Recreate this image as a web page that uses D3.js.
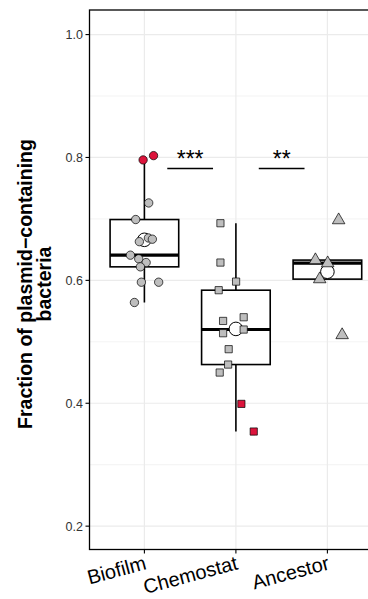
<!DOCTYPE html>
<html><head><meta charset="utf-8">
<script src="https://cdn.jsdelivr.net/npm/d3@7"></script>
<style>body{margin:0;background:#fff}svg{display:block}text{font-family:"Liberation Sans",Arial,sans-serif}</style>
</head><body><svg id="c" width="368" height="599"></svg>
<script>
const categories = ["Biofilm", "Chemostat", "Ancestor"];
const shapes = ["circle", "square", "triangle"];
// observed values per group
const biofilmValues   = [0.796, 0.803, 0.726, 0.699, 0.663, 0.669, 0.667, 0.641, 0.635, 0.629, 0.622, 0.597, 0.597, 0.564];
const biofilmJitter   = [-0.014, 0.100, 0.047, -0.095, -0.055, 0.044, 0.087, -0.153, -0.062, 0.019, -0.044, -0.033, 0.156, -0.109];
const biofilmRed      = [1, 1, 0, 0, 0, 0, 0, 0, 0, 0, 0, 0, 0, 0];
const chemostatValues = [0.693, 0.629, 0.598, 0.584, 0.540, 0.534, 0.520, 0.514, 0.488, 0.463, 0.450, 0.399, 0.354];
const chemostatJitter = [-0.169, -0.169, 0.002, -0.188, 0.085, -0.140, 0.085, -0.140, -0.079, -0.085, -0.177, 0.060, 0.195];
const chemostatRed    = [0, 0, 0, 0, 0, 0, 0, 0, 0, 0, 0, 1, 1];
const ancestorValues  = [0.698, 0.633, 0.628, 0.602, 0.511];
const ancestorJitter  = [0.123, -0.131, 0.003, -0.084, 0.161];
const ancestorRed     = [0, 0, 0, 0, 0];
// box statistics
const q1       = [0.622, 0.463, 0.602];
const medians  = [0.641, 0.520, 0.628];
const q3       = [0.699, 0.584, 0.633];
const whiskLo  = [0.564, 0.354, 0.602];
const whiskHi  = [0.800, 0.693, 0.633];
const means    = [0.666, 0.521, 0.614];
// significance annotations
const sigPairs  = [[0, 1], [1, 2]];
const sigLabels = ["***", "**"];
const sigLevel  = 0.782;
const yTicks = [0.2, 0.4, 0.6, 0.8, 1.0];
const yMinor = [0.3, 0.5, 0.7, 0.9];
const yTitle = ["Fraction of plasmid\u2212containing", "bacteria"];

const groups = [
  {vals: biofilmValues, jit: biofilmJitter, red: biofilmRed},
  {vals: chemostatValues, jit: chemostatJitter, red: chemostatRed},
  {vals: ancestorValues, jit: ancestorJitter, red: ancestorRed}
];

const svg = d3.select("#c");
const L = 89.5, R = 382.3, T = 10, B = 549.5;
const x = d3.scaleLinear().domain([0.4, 3.6]).range([L, R]);
const y = d3.scaleLinear().domain([0.162, 1.04]).range([B, T]);
const step = x(2) - x(1);
const boxW = 0.75 * step;

svg.append("defs").append("clipPath").attr("id", "pc")
  .append("rect").attr("x", L).attr("y", T).attr("width", R - L).attr("height", B - T);
const g = svg.append("g").attr("clip-path", "url(#pc)");

// grid
g.selectAll(".gmin").data(yMinor).join("line")
  .attr("x1", L).attr("x2", R).attr("y1", d => y(d)).attr("y2", d => y(d))
  .attr("stroke", "#EBEBEB").attr("stroke-width", 0.6);
g.selectAll(".gmaj").data(yTicks).join("line")
  .attr("x1", L).attr("x2", R).attr("y1", d => y(d)).attr("y2", d => y(d))
  .attr("stroke", "#EBEBEB").attr("stroke-width", 1.2);
g.selectAll(".gx").data(categories).join("line")
  .attr("x1", (d, i) => x(i + 1)).attr("x2", (d, i) => x(i + 1)).attr("y1", T).attr("y2", B)
  .attr("stroke", "#EBEBEB").attr("stroke-width", 1.2);

// boxes
categories.forEach((c, i) => {
  const cx = x(i + 1);
  g.append("line").attr("x1", cx).attr("x2", cx).attr("y1", y(q3[i])).attr("y2", y(whiskHi[i]))
    .attr("stroke", "#000").attr("stroke-width", 1.6);
  g.append("line").attr("x1", cx).attr("x2", cx).attr("y1", y(q1[i])).attr("y2", y(whiskLo[i]))
    .attr("stroke", "#000").attr("stroke-width", 1.6);
  g.append("rect").attr("x", cx - boxW / 2).attr("width", boxW)
    .attr("y", y(q3[i])).attr("height", y(q1[i]) - y(q3[i]))
    .attr("fill", "#fff").attr("stroke", "#000").attr("stroke-width", 1.6);
  g.append("line").attr("x1", cx - boxW / 2).attr("x2", cx + boxW / 2)
    .attr("y1", y(medians[i])).attr("y2", y(medians[i]))
    .attr("stroke", "#000").attr("stroke-width", 3.2);
  g.append("circle").attr("cx", cx).attr("cy", y(means[i])).attr("r", 6.8)
    .attr("fill", "#fff").attr("stroke", "#000").attr("stroke-width", 1);
});

// points
const sym = {
  circle: d3.symbol().type(d3.symbolCircle).size(55),
  square: d3.symbol().type(d3.symbolSquare).size(52),
  triangle: d3.symbol().type(d3.symbolTriangle).size(68)
};
groups.forEach((grp, i) => {
  g.selectAll(".p" + i).data(grp.vals).join("path")
    .attr("d", sym[shapes[i]])
    .attr("transform", (d, j) => `translate(${x(i + 1 + grp.jit[j])},${y(d)})`)
    .attr("fill", (d, j) => grp.red[j] ? "#DC143C" : "#BEBEBE")
    .attr("stroke", "#000").attr("stroke-width", 0.7);
});

// significance
sigPairs.forEach((p, k) => {
  const a = x(p[0] + 1), b = x(p[1] + 1), mid = (a + b) / 2, half = 0.25 * step;
  g.append("line").attr("x1", mid - half).attr("x2", mid + half)
    .attr("y1", y(sigLevel)).attr("y2", y(sigLevel)).attr("stroke", "#000").attr("stroke-width", 1.5);
  g.append("text").attr("x", mid).attr("y", y(sigLevel) - 2).attr("text-anchor", "middle")
    .attr("font-size", 23).attr("fill", "#000").text(sigLabels[k]);
});

// border
svg.append("rect").attr("x", L).attr("y", T).attr("width", R - L).attr("height", B - T)
  .attr("fill", "none").attr("stroke", "#000").attr("stroke-width", 1.3);

// y axis
const ya = svg.append("g");
yTicks.forEach(t => {
  ya.append("line").attr("x1", L - 4).attr("x2", L).attr("y1", y(t)).attr("y2", y(t))
    .attr("stroke", "#000").attr("stroke-width", 1.1);
  ya.append("text").attr("x", L - 6.5).attr("y", y(t)).attr("dy", "0.36em")
    .attr("text-anchor", "end").attr("font-size", 12.5).attr("fill", "#333").text(d3.format(".1f")(t));
});
// x axis
categories.forEach((c, i) => {
  const cx = x(i + 1);
  svg.append("line").attr("x1", cx).attr("x2", cx).attr("y1", B).attr("y2", B + 4)
    .attr("stroke", "#000").attr("stroke-width", 1.1);
  svg.append("text").attr("transform", `translate(${cx + 3},${569}) rotate(-15)`)
    .attr("text-anchor", "end").attr("font-size", 20).attr("fill", "#000").text(c);
});
// y title
yTitle.forEach((t, k) => {
  svg.append("text").attr("transform", `translate(${31.5 + k * 19},${284}) rotate(-90)`)
    .attr("text-anchor", "middle").attr("font-size", 19.5).attr("font-weight", "bold")
    .attr("fill", "#000").text(t);
});
</script></body></html>
